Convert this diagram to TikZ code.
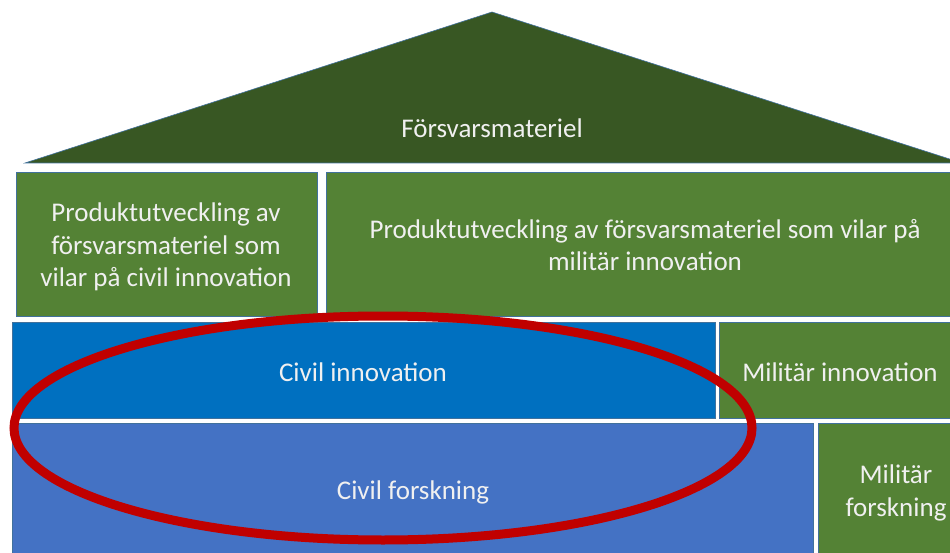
\documentclass[tikz,border=0pt]{standalone}
\usepackage{fontspec}
\setmainfont{Carlito}
\definecolor{roofgreen}{HTML}{385723}
\definecolor{boxgreen}{HTML}{548235}
\definecolor{civinno}{HTML}{0070C0}
\definecolor{civfors}{HTML}{4472C4}
\definecolor{edgeblue}{HTML}{41719C}
\definecolor{ringred}{HTML}{C00000}
\begin{document}
\begin{tikzpicture}[x=1pt,y=-1pt,
  block/.style={draw=edgeblue,line width=0.6pt},
  label/.style={text=white!94!black,font=\fontsize{27}{32.5}\selectfont,align=center,inner sep=0pt}]
\useasboundingbox (0,0) rectangle (950,553);
% roof
\fill[roofgreen,draw=edgeblue,line width=0.6pt] (25,163) -- (492,12) -- (962,163) -- cycle;
\node[label] (roof) at (492,128) {Försvarsmateriel};
% row 1
\fill[boxgreen,block] (16,172) rectangle (317,316);
\node[label] (pcivil) at (166,247) {Produktutveckling av\\försvarsmateriel som\\vilar på civil innovation};
\fill[boxgreen,block] (326,172) rectangle (962,316);
\node[label] (pmil) at (645,245) {Produktutveckling av försvarsmateriel som vilar på\\militär innovation};
% row 2
\fill[civinno,block] (12,322) rectangle (715,418);
\node[label] (cinno) at (363,372) {Civil innovation};
\fill[boxgreen,block] (719,322) rectangle (962,418);
\node[label] (minno) at (840,372) {Militär innovation};
% row 3
\fill[civfors,block] (12,423) rectangle (813,560);
\node[label] (cfors) at (413,492) {Civil forskning};
\fill[boxgreen,block] (818,423) rectangle (962,560);
\node[label] (mfors) at (896,493) {Militär\\forskning};
% red ellipse
\draw[ringred,line width=9pt] (383,428) ellipse [x radius=369, y radius=112];
\end{tikzpicture}
\end{document}
